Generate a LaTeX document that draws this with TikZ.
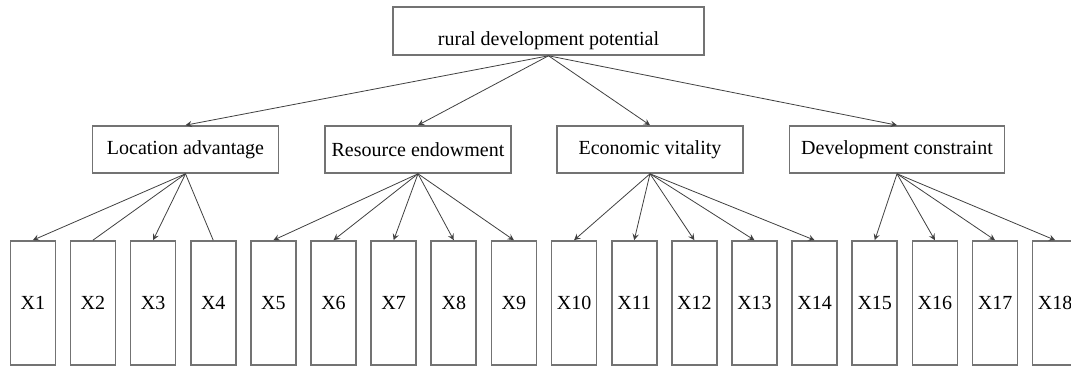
\documentclass[tikz,border=0pt]{standalone}
\usepackage{fontspec}
\setmainfont{Liberation Serif}
\usetikzlibrary{positioning, arrows}
\tikzset{
    x=0.5pt, y=-0.5pt, % one unit is one pixel of the reference
    >=stealth, % small filled arrow heads
    every node/.style={font=\fontsize{10}{12}\selectfont},
    box/.style={draw=black!55, line width=0.8pt, inner sep=0pt},
    goal/.style={box, minimum width=155.5pt, text height=19.5pt, text depth=4.5pt}, % text sits low in the top box
    factor/.style={box, minimum width=93pt, minimum height=23.5pt},
    indicator/.style={box, minimum width=22.5pt, minimum height=62pt},
}
\tikzstyle{arrow} = [->, line width=0.4pt, every edge/.style={draw=black!75}]

\begin{document}
\begin{tikzpicture}
    \clip (0,0) rectangle (1071,367);

    \node[goal] (pot) at (548.5,31) {rural development potential};

    \node[factor] (loc) at (185.5,149.5) {Location advantage};
    \node[factor] (res) at (418,149.5) {Resource endowment};
    \node[factor] (eco) at (650,149.5) {Economic vitality};
    \node[factor, minimum width=107.5pt] (con) at (897,149.5) {Development constraint};

    \node[indicator] (x1) at (32.8,303) {X1};
    \node[indicator, right=6.77pt of x1] (x2) {X2};
    \node[indicator, right=6.77pt of x2] (x3) {X3};
    \node[indicator, right=6.77pt of x3] (x4) {X4};
    \node[indicator, right=6.77pt of x4] (x5) {X5};
    \node[indicator, right=6.77pt of x5] (x6) {X6};
    \node[indicator, right=6.77pt of x6] (x7) {X7};
    \node[indicator, right=6.77pt of x7] (x8) {X8};
    \node[indicator, right=6.77pt of x8] (x9) {X9};
    \node[indicator, right=6.77pt of x9] (x10) {X10};
    \node[indicator, right=6.77pt of x10] (x11) {X11};
    \node[indicator, right=6.77pt of x11] (x12) {X12};
    \node[indicator, right=6.77pt of x12] (x13) {X13};
    \node[indicator, right=6.77pt of x13] (x14) {X14};
    \node[indicator, right=6.77pt of x14] (x15) {X15};
    \node[indicator, right=6.77pt of x15] (x16) {X16};
    \node[indicator, right=6.77pt of x16] (x17) {X17};
    \node[indicator, right=6.77pt of x17] (x18) {X18};

    \path[arrow]
        (pot.south) edge (loc.north)
        (pot.south) edge (res.north)
        (pot.south) edge (eco.north)
        (pot.south) edge (con.north);

    \path[arrow]
        (loc.south) edge (x1.north)
        (loc.south) edge[-] (x2.north)
        (loc.south) edge (x3.north)
        (loc.south) edge[-] (x4.north)
        (res.south) edge (x5.north)
        (res.south) edge (x6.north)
        (res.south) edge (x7.north)
        (res.south) edge (x8.north)
        (res.south) edge (x9.north)
        (eco.south) edge (x10.north)
        (eco.south) edge (x11.north)
        (eco.south) edge (x12.north)
        (eco.south) edge (x13.north)
        (eco.south) edge (x14.north)
        (con.south) edge (x15.north)
        (con.south) edge (x16.north)
        (con.south) edge (x17.north)
        (con.south) edge (x18.north);
\end{tikzpicture}
\end{document}
